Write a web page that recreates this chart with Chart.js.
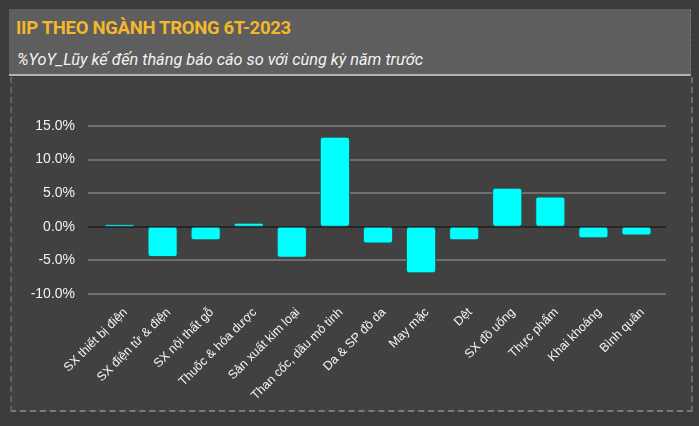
<!DOCTYPE html>
<html>
<head>
<meta charset="utf-8">
<script src="https://cdn.jsdelivr.net/npm/chart.js@4/dist/chart.umd.min.js"></script>
<style>
  html, body { margin: 0; padding: 0; }
  body { width: 699px; height: 426px; background: #3b3b3b; position: relative; overflow: hidden; }
  #header {
    position: absolute; left: 9px; top: 9px; width: 681px; height: 65px;
    background: #5e5e5e; border-bottom: 2px solid #b4b4b4; border-right: 1px dashed #7a7a7a;
  }
  #title {
    position: absolute; left: 7px; top: 8px; margin: 0;
    font: bold 18.5px Roboto, sans-serif; color: #f3b72a; letter-spacing: -0.3px;
  }
  #subtitle {
    position: absolute; left: 8px; top: 41px; margin: 0;
    font: italic 16.3px Roboto, sans-serif; color: #f2f2f2;
  }
  #panel {
    position: absolute; left: 10px; top: 77px; width: 679px; height: 333px;
    background: #414141; border-left: 2px dashed #626262; border-right: 2px dashed #6c6c6c;
    border-bottom: 2px dashed #7a7a7a;
  }
  #wrap { position: absolute; left: 0; top: 0; width: 699px; height: 426px; }
</style>
</head>
<body>
<div id="header">
  <p id="title">IIP THEO NGÀNH TRONG 6T-2023</p>
  <p id="subtitle">%YoY_Lũy kế đến tháng báo cáo so với cùng kỳ năm trước</p>
</div>
<div id="panel"></div>
<div id="wrap"><canvas id="chart" width="699" height="426"></canvas></div>
<script>
const categories = [
    'SX thiết bị điện', 'SX điện tử & điện', 'SX nội thất gỗ', 'Thuốc & hóa dược',
    'Sản xuất kim loại', 'Than cốc, dầu mỏ tinh', 'Da & SP đồ da', 'May mặc',
    'Dệt', 'SX đồ uống', 'Thực phẩm', 'Khai khoáng', 'Bình quân'
];
const yoyValues = [0.4, -4.5, -2.0, 0.6, -4.6, 13.4, -2.5, -6.9, -2.0, 5.8, 4.5, -1.7, -1.3];
const yTicks = [-10, -5, 0, 5, 10, 15];

// horizontal grid lines a little wider than the bar area, zero line dark
const gridPlugin = {
    id: 'wideGrid',
    beforeDatasetsDraw(chart) {
        const ctx = chart.ctx;
        const area = chart.chartArea;
        const y = chart.scales.y;
        ctx.save();
        yTicks.forEach(v => {
            const py = Math.round(y.getPixelForValue(v));
            ctx.beginPath();
            ctx.lineWidth = 2;
            ctx.strokeStyle = v === 0 ? '#262626' : '#6f6f6f';
            ctx.moveTo(area.left - 10, py);
            ctx.lineTo(area.right + 8, py);
            ctx.stroke();
        });
        ctx.restore();
    }
};

const ctx = document.getElementById('chart').getContext('2d');
new Chart(ctx, {
    type: 'bar',
    data: {
        labels: categories,
        datasets: [{
            data: yoyValues,
            backgroundColor: '#00ffff',
            borderColor: '#2b5a5a',
            borderWidth: 1,
            borderSkipped: false,
            borderRadius: 3,
            barPercentage: 0.7,
            categoryPercentage: 1
        }]
    },
    options: {
        responsive: false,
        animation: false,
        layout: { padding: { left: 20, right: 41, top: 126, bottom: 8 } },
        plugins: {
            legend: { display: false },
            tooltip: { enabled: false }
        },
        scales: {
            y: {
                min: -10,
                max: 15,
                afterFit: s => { s.width = 78; },
                afterBuildTicks: s => { s.ticks = yTicks.map(v => ({ value: v })); },
                grid: { display: false },
                border: { display: false },
                ticks: {
                    padding: 15,
                    color: '#f2f2f2',
                    font: { family: 'Liberation Sans', size: 14 },
                    callback: v => v.toFixed(1) + '%'
                }
            },
            x: {
                clip: false,
                afterFit: s => { s.height = 124; },
                grid: { display: false },
                border: { display: false },
                ticks: {
                    minRotation: 45,
                    maxRotation: 45,
                    autoSkip: false,
                    padding: 3,
                    labelOffset: 6,
                    color: '#f4f4f4',
                    font: { family: 'Liberation Sans', size: 12.5 }
                }
            }
        }
    },
    plugins: [gridPlugin]
});
</script>
</body>
</html>
